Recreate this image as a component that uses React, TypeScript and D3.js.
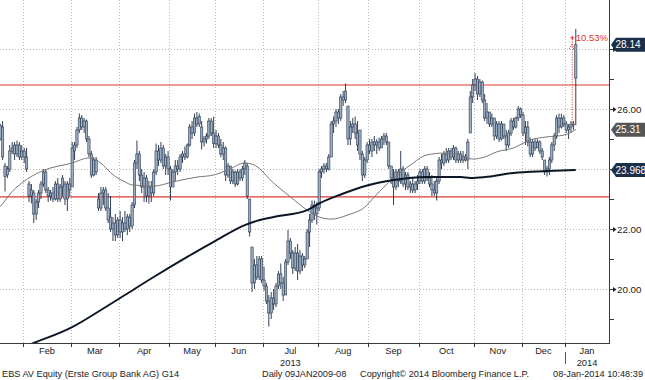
import React from 'react';
import * as d3 from 'd3';

type C = [number, number, number, number]; // open, high, low, close

const START = '2013-01-16';
const END = '2014-01-08';
const HOLIDAYS = ['2013-03-29', '2013-04-01', '2013-05-01', '2013-05-09', '2013-05-20', '2013-05-30',
  '2013-08-15', '2013-11-01', '2013-12-24', '2013-12-25', '2013-12-26', '2013-12-31', '2014-01-01'];

const JAN13: C[] = [
  [25.2, 25.5, 25.0, 25.4], [25.4, 25.6, 25.1, 25.2], [25.0, 25.5, 24.95, 25.45], [25.4, 25.6, 24.3, 24.4],
  [24.1, 24.2, 23.25, 23.75], [23.8, 24.1, 23.7, 24.0], [24.0, 24.8, 23.9, 24.6], [24.6, 24.9, 24.5, 24.7],
  [24.5, 24.9, 24.3, 24.8], [24.5, 24.95, 24.4, 24.8], [24.8, 24.9, 24.3, 24.4], [24.4, 24.8, 24.3, 24.6],
];
const FEB13: C[] = [
  [24.6, 24.7, 24.2, 24.4], [24.4, 24.7, 23.9, 24.0], [23.5, 23.6, 22.9, 23.1], [23.1, 23.5, 22.85, 23.3],
  [23.2, 23.3, 22.2, 22.5], [22.5, 23.0, 22.3, 22.9], [22.9, 23.3, 22.7, 23.2], [23.2, 23.6, 23.0, 23.5],
  [23.5, 24.0, 23.4, 23.9], [23.9, 24.0, 23.2, 23.3], [23.3, 23.4, 22.9, 23.1], [23.1, 23.3, 22.95, 23.2],
  [23.2, 23.4, 22.9, 23.0], [23.0, 23.6, 22.95, 23.5], [23.5, 23.7, 22.9, 23.0], [23.0, 23.5, 22.9, 23.4],
  [23.4, 23.8, 23.1, 23.7], [23.5, 23.6, 22.8, 23.0], [23.0, 23.6, 22.6, 23.5], [23.5, 23.7, 23.1, 23.3],
];
const MAR13: C[] = [
  [23.4, 24.9, 23.4, 24.7], [24.6, 24.9, 24.3, 24.8], [24.8, 25.4, 24.7, 25.3], [25.3, 25.85, 25.2, 25.7],
  [25.7, 25.8, 25.3, 25.4], [25.4, 25.7, 25.2, 25.6], [25.6, 25.65, 24.9, 25.0], [25.0, 25.1, 24.4, 24.5],
  [24.5, 24.6, 23.7, 23.8], [23.8, 24.4, 23.75, 24.3], [24.3, 24.4, 23.8, 23.9], [23.0, 23.2, 22.6, 22.7],
  [22.7, 23.4, 22.6, 23.2], [23.2, 23.4, 22.8, 23.3], [23.3, 23.4, 22.6, 22.7], [22.7, 23.2, 22.2, 22.3],
  [22.4, 23.1, 21.9, 22.0], [22.0, 22.4, 21.6, 22.2], [22.2, 22.5, 21.6, 21.8], [21.8, 22.4, 21.7, 22.3],
];
const APR13: C[] = [
  [22.3, 22.6, 21.7, 21.9], [21.9, 22.4, 21.6, 22.2], [22.2, 22.6, 21.9, 22.0], [22.0, 22.5, 21.8, 22.4],
  [22.4, 22.5, 21.9, 22.1], [22.1, 22.9, 22.0, 22.8], [22.8, 24.3, 22.7, 24.2], [24.2, 24.95, 24.0, 24.5],
  [24.5, 24.6, 23.6, 23.8], [23.8, 24.0, 23.2, 23.4], [23.4, 23.9, 22.9, 23.7], [23.7, 23.8, 22.9, 23.1],
  [23.1, 23.6, 22.85, 23.4], [23.4, 23.6, 22.9, 23.2], [23.2, 24.0, 23.1, 23.9], [23.9, 24.85, 23.8, 24.6],
  [24.6, 24.8, 24.1, 24.3], [24.3, 24.9, 24.2, 24.7], [24.7, 24.8, 24.0, 24.1], [24.1, 24.5, 23.8, 24.4],
  [24.4, 24.6, 23.8, 24.0],
];
const MAY13: C[] = [
  [24.0, 24.1, 22.95, 23.4], [23.4, 24.0, 23.4, 23.9], [23.9, 24.3, 23.6, 24.1], [24.1, 24.3, 23.8, 24.0],
  [24.0, 24.5, 23.9, 24.4], [24.4, 24.6, 24.2, 24.5], [24.5, 24.75, 24.3, 24.4], [24.4, 24.85, 24.35, 24.8],
  [24.8, 25.5, 24.75, 25.4], [25.4, 25.6, 25.0, 25.2], [25.2, 25.85, 25.1, 25.7], [25.7, 25.9, 25.4, 25.5],
  [25.5, 25.85, 25.4, 25.75], [25.4, 25.6, 24.65, 24.9], [24.9, 25.1, 24.75, 25.0], [25.0, 25.2, 24.85, 25.1],
  [25.1, 25.7, 25.0, 25.6], [25.6, 25.7, 25.1, 25.2], [25.2, 25.75, 24.7, 24.85],
];
const JUN13: C[] = [
  [24.85, 25.3, 24.7, 25.1], [25.1, 25.2, 24.7, 24.8], [24.8, 25.0, 24.4, 24.5], [24.5, 24.9, 24.3, 24.7],
  [24.7, 24.75, 23.6, 23.8], [23.8, 24.2, 23.7, 24.1], [24.1, 24.1, 23.5, 23.6], [23.6, 24.0, 23.5, 23.9],
  [23.9, 23.95, 23.4, 23.5], [23.5, 24.0, 23.45, 23.9], [23.9, 24.0, 23.6, 23.7], [23.7, 24.1, 23.6, 24.0],
  [24.0, 24.3, 23.8, 24.2], [24.1, 24.2, 23.0, 23.1], [23.0, 23.0, 21.75, 21.9], [21.4, 21.4, 19.9, 20.2],
  [20.2, 21.0, 20.0, 20.8], [20.8, 21.1, 20.3, 20.4], [20.4, 21.1, 20.3, 21.0], [21.0, 21.1, 20.2, 20.3],
];
const JUL13: C[] = [
  [20.3, 20.75, 19.95, 20.1], [20.1, 20.2, 19.5, 19.6], [19.6, 19.8, 18.75, 19.2], [19.2, 19.9, 19.0, 19.7],
  [19.7, 20.0, 19.3, 19.5], [19.5, 20.2, 19.4, 20.1], [20.1, 20.6, 20.0, 20.5], [20.5, 20.85, 20.0, 20.2],
  [20.2, 20.4, 19.6, 19.8], [19.8, 21.0, 19.8, 20.9], [20.9, 21.97, 20.8, 21.6], [21.6, 21.7, 21.0, 21.2],
  [21.2, 21.3, 20.5, 20.7], [20.7, 21.4, 20.6, 21.2], [21.2, 21.5, 20.3, 20.6], [20.6, 21.3, 20.5, 21.1],
  [21.1, 21.2, 20.6, 20.8], [20.8, 21.1, 20.7, 21.0], [21.0, 22.0, 21.0, 21.9], [21.9, 22.5, 21.4, 22.3],
  [22.3, 22.95, 22.2, 22.8], [22.8, 22.95, 22.3, 22.5], [22.5, 22.9, 22.15, 22.7],
];
const AUG13: C[] = [
  [22.7, 24.0, 22.6, 23.9], [23.9, 24.1, 23.7, 24.0], [24.0, 24.2, 23.85, 24.1], [24.1, 24.2, 23.9, 24.0],
  [24.0, 24.5, 23.95, 24.4], [24.4, 25.6, 24.4, 25.5], [25.5, 25.75, 25.2, 25.6], [25.6, 26.0, 25.4, 25.9],
  [25.9, 26.0, 25.5, 25.7], [25.7, 26.5, 25.6, 26.4], [26.4, 26.6, 26.1, 26.3], [26.3, 26.85, 26.2, 26.6],
  [26.1, 26.1, 24.8, 25.0], [25.0, 25.6, 24.8, 25.4], [25.4, 25.7, 25.2, 25.5], [25.5, 25.75, 25.0, 25.2],
  [25.2, 25.6, 24.6, 24.8], [25.3, 25.3, 24.3, 24.5], [24.5, 24.6, 23.6, 23.8], [23.8, 24.4, 23.7, 24.3],
  [24.3, 24.9, 24.2, 24.8],
];
const SEP13: C[] = [
  [24.8, 25.0, 24.5, 24.6], [24.6, 25.0, 24.4, 24.9], [24.9, 25.1, 24.6, 24.8], [24.8, 25.0, 24.5, 24.9],
  [24.9, 25.05, 24.6, 24.7], [24.7, 25.1, 24.7, 25.0], [25.0, 25.2, 24.8, 25.1], [25.1, 25.2, 24.8, 24.9],
  [24.9, 24.9, 24.0, 24.1], [24.1, 24.1, 23.5, 23.7], [23.7, 24.0, 22.8, 23.4], [23.4, 24.0, 23.3, 23.9],
  [23.9, 24.0, 23.4, 23.6], [23.6, 24.6, 23.5, 24.0], [24.0, 24.1, 23.4, 23.5], [23.5, 23.9, 23.3, 23.8],
  [23.8, 23.9, 23.3, 23.4], [23.4, 23.6, 23.2, 23.5], [23.5, 23.7, 23.2, 23.3], [23.3, 23.6, 23.2, 23.5],
  [23.5, 23.8, 23.3, 23.6],
];
const OCT13: C[] = [
  [23.6, 24.0, 23.5, 23.9], [23.9, 24.0, 23.5, 23.6], [23.6, 24.1, 23.5, 24.0], [24.0, 24.1, 23.6, 23.7],
  [23.7, 23.9, 23.4, 23.5], [23.5, 23.8, 23.1, 23.3], [23.3, 23.6, 23.1, 23.2], [23.2, 23.7, 22.95, 23.6],
  [23.6, 24.4, 23.5, 24.3], [24.3, 24.5, 24.0, 24.2], [24.2, 24.6, 24.1, 24.5], [24.5, 24.7, 24.2, 24.3],
  [24.3, 24.7, 24.2, 24.6], [24.6, 24.7, 24.3, 24.4], [24.4, 24.8, 24.3, 24.7], [24.7, 24.75, 24.2, 24.3],
  [24.3, 24.6, 24.2, 24.5], [24.5, 24.6, 24.2, 24.3], [24.3, 24.6, 24.2, 24.4], [24.4, 24.5, 24.25, 24.3],
  [24.3, 25.0, 24.0, 24.9], [25.2, 26.6, 25.2, 26.4], [26.4, 27.0, 26.2, 26.8],
];
const NOV13: C[] = [
  [26.8, 27.2, 26.6, 27.0], [27.0, 27.1, 26.3, 26.5], [26.5, 27.0, 26.4, 26.9], [26.9, 26.95, 26.2, 26.3],
  [26.3, 26.5, 25.6, 25.7], [25.7, 26.2, 25.5, 25.9], [25.9, 25.9, 25.4, 25.5], [25.5, 25.85, 25.4, 25.7],
  [25.7, 25.7, 24.95, 25.1], [25.1, 25.6, 25.0, 25.5], [25.5, 25.6, 24.9, 25.0], [25.0, 25.6, 24.95, 25.5],
  [25.5, 25.5, 25.0, 25.1], [25.1, 25.3, 24.6, 24.8], [24.8, 25.3, 24.7, 25.2], [25.2, 25.7, 25.1, 25.6],
  [25.6, 25.7, 25.3, 25.4], [25.4, 25.75, 25.35, 25.7], [25.7, 26.1, 25.6, 26.0], [26.0, 26.05, 25.7, 25.8],
];
const DEC13: C[] = [
  [25.8, 25.9, 25.1, 25.2], [25.2, 25.6, 24.8, 25.4], [25.4, 25.6, 24.75, 24.9], [24.9, 25.05, 24.4, 24.5],
  [24.5, 25.0, 24.4, 24.9], [24.9, 25.0, 24.6, 24.7], [24.7, 25.0, 24.7, 24.9], [24.9, 24.95, 24.5, 24.6],
  [24.6, 24.7, 24.3, 24.4], [24.3, 24.3, 23.8, 23.9], [23.9, 24.1, 23.75, 24.0], [24.0, 24.4, 23.8, 24.3],
  [24.3, 24.9, 24.2, 24.8], [24.8, 25.2, 24.6, 25.1], [25.1, 25.8, 25.0, 25.7], [25.7, 25.85, 25.2, 25.4],
  [25.4, 25.85, 25.35, 25.7], [25.7, 25.8, 25.4, 25.5],
];
const JAN14: C[] = [
  [25.5, 25.6, 25.2, 25.3], [25.3, 25.5, 25.0, 25.4], [25.4, 25.6, 25.2, 25.5], [25.5, 25.6, 25.3, 25.46],
  [27.03, 28.67, 25.46, 28.14],
];

const MA50: [string, number][] = [
  ['2013-01-16', 22.6], ['2013-01-18', 22.75], ['2013-01-25', 23.25], ['2013-02-04', 23.65], ['2013-02-13', 23.95],
  ['2013-03-01', 24.2], ['2013-03-12', 24.37], ['2013-03-15', 24.3], ['2013-03-27', 23.75], ['2013-04-04', 23.57],
  ['2013-04-09', 23.47], ['2013-04-22', 23.43], ['2013-05-03', 23.57], ['2013-05-21', 23.73], ['2013-05-31', 23.8],
  ['2013-06-10', 23.97], ['2013-06-19', 24.2], ['2013-06-25', 24.13], ['2013-07-05', 23.53], ['2013-07-16', 23.07],
  ['2013-07-25', 22.63], ['2013-08-01', 22.4], ['2013-08-08', 22.33], ['2013-08-20', 22.47], ['2013-08-29', 22.73],
  ['2013-09-04', 23.07], ['2013-09-16', 23.7], ['2013-09-25', 24.13], ['2013-10-04', 24.47], ['2013-10-15', 24.53],
  ['2013-10-24', 24.47], ['2013-10-31', 24.33], ['2013-11-08', 24.4], ['2013-11-15', 24.57], ['2013-11-26', 24.7],
  ['2013-12-05', 24.97], ['2013-12-16', 25.07], ['2013-12-30', 25.13], ['2014-01-08', 25.31],
];
const MA200: [string, number][] = [
  ['2013-01-16', 17.7], ['2013-02-07', 18.2], ['2013-03-01', 18.73], ['2013-03-19', 19.3], ['2013-04-04', 19.8],
  ['2013-04-22', 20.4], ['2013-05-14', 21.07], ['2013-05-31', 21.57], ['2013-06-19', 22.13], ['2013-06-26', 22.27],
  ['2013-07-05', 22.4], ['2013-07-25', 22.63], ['2013-08-01', 22.85], ['2013-08-14', 23.15], ['2013-08-30', 23.45],
  ['2013-09-16', 23.63], ['2013-10-04', 23.73], ['2013-10-24', 23.73], ['2013-10-30', 23.7], ['2013-11-08', 23.73],
  ['2013-11-26', 23.87], ['2013-12-16', 23.93], ['2014-01-08', 23.968],
];

const LEVELS = [26.8, 23.07];
const Y_MINOR = [19, 20, 21, 22, 23, 24, 25, 26, 27, 28];
const Y_LABELS = [20, 22, 24, 26, 28];
const MONTH_LABELS = ['Feb', 'Mar', 'Apr', 'May', 'Jun', 'Jul', 'Aug', 'Sep', 'Oct', 'Nov', 'Dec', 'Jan'];
const YEAR_LABELS: [string, string][] = [['Jul', '2013'], ['Jan', '2014']];
const LAST_CLOSE = 28.14;
const LAST_MA50 = 25.31;
const LAST_MA200 = 23.968;
const PREV_CLOSE = 25.46;
const CHANGE_TEXT = '10.53%';
const FOOTER = ['EBS AV Equity (Erste Group Bank AG) G14', 'Daily 09JAN2009-08',
  'Copyright\u00A9 2014 Bloomberg Finance L.P.', '08-Jan-2014 10:48:39'];

function tradingDays(start: string, end: string, holidays: string[]): string[] {
  const hs = new Set(holidays);
  const out: string[] = [];
  const d = new Date(start + 'T00:00:00Z');
  const e = new Date(end + 'T00:00:00Z');
  while (d <= e) {
    const wd = d.getUTCDay();
    const s = d.toISOString().slice(0, 10);
    if (wd !== 0 && wd !== 6 && !hs.has(s)) out.push(s);
    d.setUTCDate(d.getUTCDate() + 1);
  }
  return out;
}

const FONT = "'Liberation Sans', Arial, sans-serif";

export default function App() {
  const W = 645, H = 380;
  const plotR = 609, plotB = 343;
  const days = tradingDays(START, END, HOLIDAYS);
  const idx = new Map(days.map((d, i) => [d, i] as [string, number]));
  const all = [...JAN13, ...FEB13, ...MAR13, ...APR13, ...MAY13, ...JUN13, ...JUL13, ...AUG13, ...SEP13, ...OCT13, ...NOV13, ...DEC13, ...JAN14];
  const n = Math.min(all.length, days.length);
  const iFeb = idx.get('2013-02-01')!;
  const iJan = idx.get('2014-01-02')!;
  const x = d3.scaleLinear().domain([iFeb - 0.5, iJan - 0.5]).range([23, 565]);
  const y = d3.scaleLinear().domain([18.2, 26 + 109 / 30]).range([plotB, 0]);

  const monthStarts: number[] = [];
  days.forEach((d, i) => {
    if (i > 0 && d.slice(0, 7) !== days[i - 1].slice(0, 7)) monthStarts.push(i);
  });
  const ticksX = monthStarts.map(i => x(i - 0.5));
  const labelX = ticksX.map((t, k) => (t + (k + 1 < ticksX.length ? ticksX[k + 1] : plotR)) / 2);

  const mkLine = (data: [string, number][]) =>
    d3.line<[string, number]>()
      .x(d => x(idx.get(d[0])!))
      .y(d => y(d[1]))
      .curve(d3.curveMonotoneX)(data.filter(d => idx.has(d[0]))) || '';

  const boxPath = (cy: number) => {
    const p = d3.path();
    p.moveTo(611, cy);
    p.lineTo(616, cy - 7);
    p.lineTo(645, cy - 7);
    p.lineTo(645, cy + 7);
    p.lineTo(616, cy + 7);
    p.closePath();
    return p.toString();
  };

  const boxes: [number, string, string][] = [
    [LAST_CLOSE, '#1c2f4a', LAST_CLOSE.toFixed(2)],
    [LAST_MA50, '#555555', LAST_MA50.toFixed(2)],
    [LAST_MA200, '#1c2f4a', LAST_MA200.toFixed(3)],
  ];
  const hiddenByBox = (v: number) => boxes.some(b => Math.abs(y(b[0]) - y(v)) < 12);

  const lastX = x(n - 1);
  const annX = lastX - 3.5;

  return (
    <svg width={W} height={H} style={{ position: 'absolute', left: 0, top: 0, background: '#fff' }} fontFamily={FONT}>
      <defs>
        <clipPath id="plot"><rect x={0} y={0} width={plotR} height={plotB} /></clipPath>
      </defs>
      <rect x={0} y={0} width={W} height={H} fill="#fff" />
      {Y_LABELS.map(v => (
        <line key={'g' + v} x1={0} x2={plotR} y1={Math.round(y(v)) + 0.5} y2={Math.round(y(v)) + 0.5}
          stroke="#b8b8b8" strokeDasharray="1 2" strokeWidth={1} />
      ))}
      {ticksX.map((t, k) => (
        <line key={'v' + k} x1={Math.round(t) + 0.5} x2={Math.round(t) + 0.5} y1={0} y2={plotB}
          stroke="#b8b8b8" strokeDasharray="1 2" strokeWidth={1} />
      ))}
      {LEVELS.map(v => (
        <line key={'l' + v} x1={0} x2={plotR} y1={y(v)} y2={y(v)} stroke="#dc3a34" strokeWidth={1.1} />
      ))}
      <g clipPath="url(#plot)">
        {all.slice(0, n).map((c, i) => {
          const cx = x(i);
          const top = y(Math.max(c[0], c[3]));
          const bot = y(Math.min(c[0], c[3]));
          return (
            <g key={'c' + i}>
              <line x1={cx} x2={cx} y1={y(c[1])} y2={y(c[2])} stroke="#1b2b42" strokeWidth={0.9} />
              <rect x={cx - 1.15} y={top} width={2.3} height={Math.max(0.8, bot - top)}
                fill="#9cadc2" stroke="#1f2f46" strokeWidth={0.55} />
            </g>
          );
        })}
        <path d={mkLine(MA50)} fill="none" stroke="#777" strokeWidth={1} />
        <path d={mkLine(MA200)} fill="none" stroke="#0c1626" strokeWidth={2} />
      </g>
      <line x1={annX} x2={annX} y1={y(PREV_CLOSE)} y2={y(LAST_CLOSE) - 6} stroke="#e0302a" strokeWidth={1} strokeDasharray="1 1.5" />
      <path d={`M${annX - 3},${y(LAST_CLOSE) + 4} L${annX},${y(LAST_CLOSE) - 1} L${annX + 1.5},${y(LAST_CLOSE) + 5}`}
        fill="none" stroke="#e0302a" strokeWidth={1} strokeDasharray="1 1" />
      <line x1={annX - 2} x2={annX + 2} y1={y(LAST_CLOSE) - 7} y2={y(LAST_CLOSE) - 7} stroke="#e0302a" strokeWidth={1} />
      <line x1={annX} x2={annX} y1={y(LAST_CLOSE) - 9} y2={y(LAST_CLOSE) - 5} stroke="#e0302a" strokeWidth={1} />
      <text x={annX + 3.5} y={y(LAST_CLOSE) - 3.5} fontSize={9.5} fill="#e0302a">{CHANGE_TEXT}</text>
      <line x1={plotR + 0.5} x2={plotR + 0.5} y1={0} y2={plotB} stroke="#3a3a3a" strokeWidth={1} />
      <line x1={0} x2={plotR + 1} y1={plotB + 0.5} y2={plotB + 0.5} stroke="#3a3a3a" strokeWidth={1} />
      {Y_MINOR.map(v => (
        <line key={'t' + v} x1={plotR} x2={plotR + 5} y1={Math.round(y(v)) + 0.5} y2={Math.round(y(v)) + 0.5} stroke="#3a3a3a" />
      ))}
      {Y_LABELS.map(v => {
        const yy = Math.round(y(v)) + 0.5;
        return (
          <g key={'yl' + v}>
            <path d={`M${plotR + 4},${yy - 2.5} L${plotR + 7.5},${yy} L${plotR + 4},${yy + 2.5} Z`} fill="#222" />
            {!hiddenByBox(v) && <text x={617} y={yy} dy="0.35em" fontSize={9.8} fill="#222">{v.toFixed(2)}</text>}
          </g>
        );
      })}
      {ticksX.map((t, k) => (
        <line key={'xt' + k} x1={Math.round(t) + 0.5} x2={Math.round(t) + 0.5} y1={plotB} y2={plotB + 4} stroke="#3a3a3a" />
      ))}
      {MONTH_LABELS.map((m, k) => (
        <text key={'m' + k} x={labelX[k]} y={354} textAnchor="middle" fontSize={9.3} fill="#222">{m}</text>
      ))}
      {YEAR_LABELS.map(([m, yr]) => {
        const k = MONTH_LABELS.lastIndexOf(m);
        return <text key={yr} x={labelX[k]} y={365.5} textAnchor="middle" fontSize={9.3} fill="#222">{yr}</text>;
      })}
      <line x1={Math.round(ticksX[ticksX.length - 1]) + 0.5} x2={Math.round(ticksX[ticksX.length - 1]) + 0.5}
        y1={352} y2={364} stroke="#555" />
      {boxes.map(([v, col, txt]) => (
        <g key={'b' + v}>
          <path d={boxPath(y(v))} fill={col} />
          <text x={615.5} y={y(v)} dy="0.36em" fontSize={10} fill="#fff">{txt}</text>
        </g>
      ))}
      <text x={2} y={377} fontSize={9.2} fill="#222">{FOOTER[0]}</text>
      <text x={262} y={377} fontSize={9.2} fill="#222">{FOOTER[1]}</text>
      <text x={360} y={377} fontSize={9.2} fill="#222">{FOOTER[2]}</text>
      <text x={643} y={377} fontSize={9.2} fill="#222" textAnchor="end">{FOOTER[3]}</text>
    </svg>
  );
}
